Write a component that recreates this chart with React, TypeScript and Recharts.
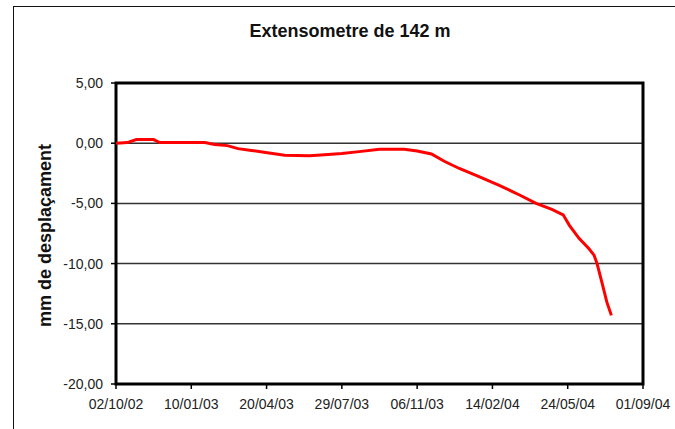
import {
    LineChart,
    Line,
    XAxis,
    YAxis,
    CartesianGrid,
    ReferenceArea,
    Label
} from 'recharts';

// days counted from 02/10/02
const days = [
    0, 15, 27, 50, 58, 118, 131, 148, 162, 180, 201, 224, 257, 277, 300, 323, 350, 383,
    400, 419, 436, 456, 483, 509, 536, 558, 579, 594, 602, 615, 628, 635, 639, 646, 652, 658
];

// mm de desplaçament
const displacement = [
    0, 0.05, 0.3, 0.3, 0.05, 0.05, -0.1, -0.2, -0.45, -0.6, -0.8, -1.0, -1.05, -0.95, -0.85, -0.7, -0.5, -0.5,
    -0.65, -0.9, -1.5, -2.1, -2.8, -3.5, -4.3, -5.0, -5.5, -5.95, -6.8, -7.9, -8.75, -9.3, -10.0, -11.7, -13.2, -14.3
];

const xTicks = [0, 100, 200, 300, 400, 500, 600, 700];
const xTickLabels = ['02/10/02', '10/01/03', '20/04/03', '29/07/03', '06/11/03', '14/02/04', '24/05/04', '01/09/04'];
const yTicks = [-20, -15, -10, -5, 0, 5];

const chartData = days.map((d, i) => ({ day: d, value: displacement[i] }));

const FONT = '"Liberation Sans", Arial, sans-serif';

export default function App() {
    return (
        <div
            style={{
                position: 'absolute',
                left: 0,
                top: 0,
                width: 675,
                height: 429,
                overflow: 'hidden',
                background: '#fff',
                fontFamily: FONT
            }}
        >
            {/* outer frame: only its top and left edges show in the picture */}
            <div
                style={{
                    position: 'absolute',
                    left: 13,
                    top: 6,
                    width: 700,
                    height: 460,
                    borderTop: '1.5px solid #111',
                    borderLeft: '1.5px solid #111'
                }}
            />
            <div
                style={{
                    position: 'absolute',
                    left: 0,
                    top: 20,
                    width: 700,
                    textAlign: 'center',
                    fontSize: 18,
                    lineHeight: '22px',
                    fontWeight: 'bold',
                    color: '#111'
                }}
            >
                Extensometre de 142 m
            </div>
            <LineChart
                width={675}
                height={429}
                data={chartData}
                margin={{ top: 83, right: 32, left: 20, bottom: 5 }}
                style={{ position: 'absolute', left: 0, top: 0 }}
            >
                <CartesianGrid vertical={false} stroke="#333" strokeWidth={1.5} />
                <XAxis
                    type="number"
                    dataKey="day"
                    domain={[0, 700]}
                    ticks={xTicks}
                    tickFormatter={(v) => xTickLabels[xTicks.indexOf(v)]}
                    interval={0}
                    height={40}
                    axisLine={false}
                    tickSize={5}
                    tickMargin={10}
                    tickLine={{ stroke: '#000', strokeWidth: 1.5 }}
                    tick={{ fontSize: 14, fill: '#222', fontFamily: FONT }}
                />
                <YAxis
                    type="number"
                    domain={[-20, 5]}
                    ticks={yTicks}
                    interval={0}
                    width={96}
                    axisLine={false}
                    tickSize={5}
                    tickMargin={8}
                    tickLine={{ stroke: '#000', strokeWidth: 1.5 }}
                    tickFormatter={(v) => v.toFixed(2).replace('.', ',')}
                    tick={{ fontSize: 14, fill: '#222', fontFamily: FONT }}
                >
                    <Label
                        content={(props: any) => {
                            const vb = props.viewBox;
                            const cx = vb.x + 25;
                            const cy = vb.y + vb.height / 2 + 2;
                            return (
                                <text
                                    x={cx}
                                    y={cy}
                                    transform={`rotate(-90, ${cx}, ${cy})`}
                                    textAnchor="middle"
                                    dominantBaseline="central"
                                    fontSize={18}
                                    fontWeight="bold"
                                    fontFamily={FONT}
                                    fill="#111"
                                >
                                    mm de desplaçament
                                </text>
                            );
                        }}
                    />
                </YAxis>
                <ReferenceArea
                    x1={0}
                    x2={700}
                    y1={-20}
                    y2={5}
                    fill="none"
                    stroke="#000"
                    strokeWidth={3}
                />
                <Line
                    type="linear"
                    dataKey="value"
                    stroke="#ff0000"
                    strokeWidth={3}
                    dot={false}
                    isAnimationActive={false}
                />
            </LineChart>
        </div>
    );
}
